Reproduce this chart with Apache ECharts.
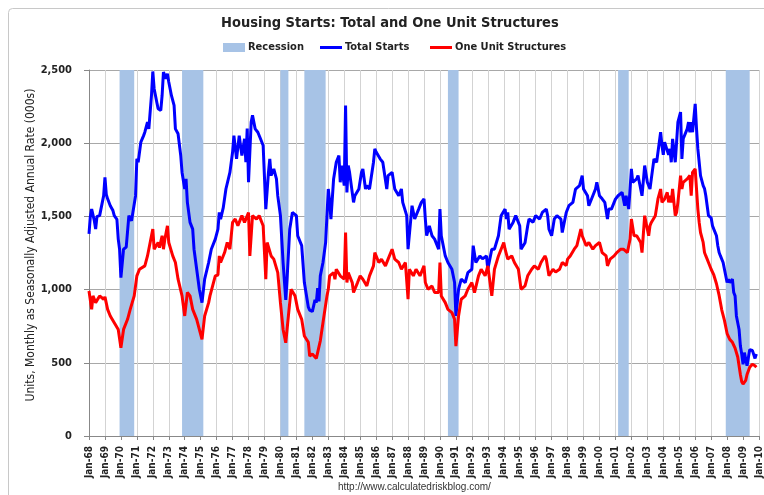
<!DOCTYPE html>
<html><head><meta charset="utf-8">
<script src="https://cdn.jsdelivr.net/npm/echarts@6/dist/echarts.min.js"></script>
<style>html,body{margin:0;padding:0;background:#fff}#c{width:764px;height:495px}</style>
</head><body><div id="c"></div>
<script>
// ---- data ----
const startYear = 1968, endYear = 2010;
const monthNames = ['Jan','Feb','Mar','Apr','May','Jun','Jul','Aug','Sep','Oct','Nov','Dec'];
const categories = [];
for (let y = startYear; y <= endYear; y++) {
  for (let m = 1; m <= 12; m++) {
    if (y === endYear && m > 1) break;
    categories.push(y + '-' + String(m).padStart(2, '0'));
  }
}
const yTicks = [0, 500, 1000, 1500, 2000, 2500];

const recessions = [
  ['1969-12','1970-11'], ['1973-11','1975-03'], ['1980-01','1980-07'],
  ['1981-07','1982-11'], ['1990-07','1991-03'], ['2001-03','2001-11'], ['2007-12','2009-06']
];

const totalStarts = [
["1968-01",1380],["1968-02",1500],["1968-03",1550],["1968-05",1470],["1968-06",1413],["1968-07",1500],["1968-09",1505],["1968-11",1596],["1968-12",1640],
["1969-01",1767],["1969-02",1650],["1969-03",1620],["1969-05",1573],["1969-07",1540],["1969-08",1505],["1969-10",1480],["1969-11",1345],["1969-12",1276],
["1970-01",1082],["1970-02",1180],["1970-03",1276],["1970-05",1290],["1970-06",1300],["1970-07",1505],["1970-09",1470],["1970-10",1527],["1970-12",1640],
["1971-01",1893],["1971-02",1870],["1971-04",2007],["1971-06",2050],["1971-07",2075],["1971-09",2144],["1971-10",2098],["1971-12",2326],
["1972-01",2490],["1972-02",2372],["1972-04",2280],["1972-05",2235],["1972-07",2224],["1972-08",2326],["1972-09",2486],["1972-11",2440],["1972-12",2475],
["1973-01",2418],["1973-03",2326],["1973-05",2258],["1973-06",2098],["1973-08",2064],["1973-10",1916],["1973-11",1800],
["1974-01",1687],["1974-02",1756],["1974-03",1596],["1974-05",1459],["1974-07",1413],["1974-08",1276],["1974-10",1139],["1974-12",1002],
["1975-01",957],["1975-02",911],["1975-04",1071],["1975-07",1185],["1975-09",1276],["1975-12",1345],
["1976-02",1413],["1976-03",1527],["1976-04",1482],["1976-06",1560],["1976-08",1687],["1976-11",1801],
["1977-01",1938],["1977-02",2052],["1977-04",1893],["1977-06",2052],["1977-08",1916],["1977-10",2030],["1977-11",1870],["1977-12",2100],
["1978-01",1733],["1978-03",2144],["1978-04",2190],["1978-06",2098],["1978-08",2075],["1978-10",2030],["1978-12",1984],
["1979-01",1984],["1979-02",1550],["1979-04",1800],["1979-05",1893],["1979-06",1779],["1979-08",1824],["1979-10",1756],["1979-11",1640],
["1980-01",1505],["1980-03",1185],["1980-05",930],["1980-06",1071],["1980-08",1413],["1980-10",1527],
["1981-01",1505],["1981-02",1368],["1981-05",1300],["1981-07",1048],["1981-10",880],["1981-11",860],
["1982-01",850],["1982-03",930],["1982-04",911],["1982-05",1010],["1982-06",920],["1982-07",1094],["1982-09",1185],["1982-11",1322],
["1983-01",1687],["1983-02",1600],["1983-03",1482],["1983-05",1756],["1983-07",1870],["1983-09",1916],["1983-10",1733],["1983-11",1847],
["1984-01",1710],["1984-02",2258],["1984-03",1664],["1984-04",1847],["1984-05",1801],["1984-08",1596],["1984-09",1641],["1984-12",1687],
["1985-02",1801],["1985-03",1824],["1985-05",1687],["1985-06",1710],["1985-08",1687],["1985-11",1870],["1985-12",1961],
["1986-01",1940],["1986-04",1893],["1986-06",1870],["1986-09",1687],["1986-10",1779],
["1987-01",1801],["1987-03",1687],["1987-06",1641],["1987-08",1687],["1987-09",1596],["1987-12",1505],
["1988-01",1276],["1988-04",1573],["1988-06",1482],["1988-09",1550],["1988-11",1596],
["1989-01",1620],["1989-02",1482],["1989-03",1368],["1989-05",1436],["1989-07",1368],["1989-09",1345],["1989-12",1276],
["1990-01",1550],["1990-02",1368],["1990-05",1230],["1990-07",1185],["1990-10",1139],["1990-12",1048],
["1991-01",820],["1991-03",1002],["1991-05",1071],["1991-08",1048],["1991-10",1116],
["1992-01",1139],["1992-02",1300],["1992-04",1185],["1992-07",1230],["1992-09",1210],["1992-12",1230],
["1993-01",1139],["1993-04",1276],["1993-06",1276],["1993-09",1368],["1993-11",1505],
["1994-02",1550],["1994-03",1482],["1994-04",1527],["1994-05",1413],["1994-08",1459],["1994-10",1505],
["1995-01",1436],["1995-02",1276],["1995-05",1320],["1995-07",1436],["1995-08",1482],["1995-11",1460],
["1996-01",1505],["1996-04",1482],["1996-06",1527],["1996-09",1550],["1996-10",1505],["1996-11",1413],
["1997-01",1368],["1997-03",1482],["1997-05",1505],["1997-08",1482],["1997-09",1390],["1997-12",1527],
["1998-02",1573],["1998-05",1596],["1998-07",1687],["1998-10",1710],["1998-12",1779],
["1999-01",1687],["1999-04",1641],["1999-05",1573],["1999-08",1641],["1999-10",1687],["1999-11",1733],
["2000-01",1641],["2000-03",1620],["2000-05",1596],["2000-07",1482],["2000-08",1550],["2000-10",1550],
["2001-01",1618],["2001-03",1641],["2001-06",1664],["2001-08",1573],["2001-09",1641],["2001-11",1550],["2001-12",1687],
["2002-01",1824],["2002-02",1733],["2002-05",1756],["2002-06",1779],["2002-09",1641],["2002-11",1847],
["2003-01",1733],["2003-03",1687],["2003-04",1756],["2003-06",1893],["2003-08",1870],["2003-11",2075],["2003-12",1984],
["2004-01",1920],["2004-02",2007],["2004-05",1920],["2004-06",1961],["2004-07",1870],["2004-08",2030],["2004-10",1870],["2004-12",2144],
["2005-02",2212],["2005-03",1893],["2005-04",2030],["2005-07",2098],["2005-08",2144],["2005-09",2075],["2005-10",2144],["2005-11",2075],
["2006-01",2269],["2006-02",2098],["2006-03",1961],["2006-04",1870],["2006-05",1779],["2006-07",1710],["2006-08",1690],["2006-09",1641],["2006-10",1573],["2006-11",1505],
["2007-01",1490],["2007-02",1436],["2007-03",1413],["2007-05",1368],["2007-06",1300],["2007-07",1253],["2007-08",1230],["2007-10",1185],["2007-11",1139],
["2008-01",1048],["2008-02",1071],["2008-03",1048],["2008-05",1071],["2008-06",980],["2008-07",957],["2008-08",820],["2008-10",728],["2008-11",614],["2008-12",560],
["2009-01",490],["2009-02",570],["2009-04",480],["2009-06",590],["2009-08",585],["2009-10",530],["2009-11",560]
];

const oneUnit = [
["1968-01",991],["1968-03",865],["1968-04",957],["1968-06",911],["1968-09",957],["1968-12",934],
["1969-01",950],["1969-03",865],["1969-05",820],["1969-08",774],["1969-11",728],["1969-12",728],
["1970-01",603],["1970-03",728],["1970-06",797],["1970-08",865],["1970-11",957],
["1971-01",1094],["1971-03",1139],["1971-07",1162],["1971-09",1230],["1971-11",1322],
["1972-01",1413],["1972-02",1276],["1972-05",1322],["1972-06",1287],["1972-08",1368],["1972-09",1276],["1972-10",1340],["1972-12",1436],
["1973-01",1322],["1973-04",1230],["1973-06",1185],["1973-08",1071],["1973-11",957],
["1974-01",820],["1974-03",980],["1974-05",957],["1974-07",865],["1974-10",797],["1974-12",728],
["1975-02",660],["1975-04",820],["1975-07",911],["1975-08",957],["1975-12",1094],
["1976-02",1100],["1976-03",1230],["1976-04",1185],["1976-07",1253],["1976-09",1322],["1976-11",1276],
["1977-01",1459],["1977-03",1482],["1977-05",1436],["1977-08",1505],["1977-10",1459],
["1978-01",1527],["1978-02",1230],["1978-04",1505],["1978-07",1482],["1978-09",1505],["1978-12",1436],
["1979-02",1071],["1979-03",1322],["1979-06",1230],["1979-08",1208],["1979-11",1116],
["1980-01",911],["1980-03",728],["1980-05",637],["1980-07",820],["1980-09",1002],["1980-12",957],
["1981-02",865],["1981-05",797],["1981-07",683],["1981-10",640],["1981-11",546],
["1982-01",560],["1982-04",530],["1982-07",650],["1982-09",774],["1982-12",957],
["1983-01",1002],["1983-02",1094],["1983-05",1116],["1983-06",1071],["1983-07",1139],["1983-10",1094],
["1984-01",1071],["1984-02",1390],["1984-03",1048],["1984-04",1116],["1984-07",1048],["1984-08",980],["1984-11",1048],
["1985-01",1094],["1985-03",1071],["1985-06",1025],["1985-08",1094],["1985-11",1162],["1985-12",1253],
["1986-03",1185],["1986-05",1208],["1986-08",1162],["1986-10",1208],
["1987-01",1276],["1987-03",1208],["1987-06",1185],["1987-08",1139],["1987-11",1185],
["1988-01",934],["1988-02",1139],["1988-05",1094],["1988-07",1139],["1988-10",1094],
["1989-01",1162],["1989-02",1048],["1989-04",1002],["1989-07",1025],["1989-09",980],["1989-12",980],
["1990-01",1185],["1990-02",957],["1990-05",911],["1990-07",865],["1990-10",843],["1990-12",797],
["1991-01",614],["1991-03",820],["1991-05",934],["1991-08",957],["1991-10",1002],
["1992-01",1048],["1992-03",980],["1992-06",1094],["1992-08",1139],["1992-11",1094],
["1993-01",1162],["1993-04",957],["1993-06",1139],["1993-09",1230],["1993-11",1276],
["1994-01",1322],["1994-02",1276],["1994-04",1208],["1994-07",1230],["1994-09",1185],["1994-12",1139],
["1995-02",1002],["1995-05",1025],["1995-07",1094],["1995-10",1139],["1995-12",1162],
["1996-03",1139],["1996-05",1185],["1996-08",1230],["1996-09",1208],["1996-11",1094],
["1997-02",1139],["1997-04",1120],["1997-07",1139],["1997-09",1185],["1997-12",1165],
["1998-01",1208],["1998-03",1230],["1998-06",1276],["1998-08",1300],["1998-11",1413],["1998-12",1368],
["1999-03",1300],["1999-05",1322],["1999-08",1276],["1999-10",1300],
["2000-01",1322],["2000-03",1253],["2000-06",1230],["2000-07",1162],["2000-09",1208],["2000-12",1230],
["2001-02",1253],["2001-05",1276],["2001-07",1276],["2001-10",1253],["2001-11",1300],["2001-12",1345],
["2002-01",1482],["2002-03",1368],["2002-05",1368],["2002-08",1322],["2002-09",1253],["2002-11",1505],
["2003-02",1368],["2003-03",1436],["2003-04",1459],["2003-07",1505],["2003-09",1619],["2003-11",1687],["2003-12",1596],
["2004-02",1619],["2004-04",1664],["2004-05",1596],["2004-06",1641],["2004-07",1596],["2004-08",1687],["2004-10",1505],["2004-11",1527],["2004-12",1596],
["2005-02",1779],["2005-03",1687],["2005-04",1733],["2005-07",1756],["2005-09",1779],["2005-10",1641],["2005-11",1801],
["2006-01",1824],["2006-02",1687],["2006-03",1550],["2006-04",1459],["2006-05",1390],["2006-07",1322],["2006-08",1253],["2006-09",1230],["2006-10",1208],["2006-11",1185],
["2007-01",1139],["2007-03",1100],["2007-05",1040],["2007-07",960],["2007-09",860],["2007-11",790],
["2008-01",700],["2008-03",660],["2008-05",640],["2008-07",600],["2008-09",540],["2008-10",480],["2008-11",420],["2008-12",370],
["2009-01",355],["2009-02",360],["2009-03",380],["2009-04",420],["2009-06",470],["2009-08",490],["2009-10",480],["2009-11",470]
];

// ---- chart ----
const FONT = '"Liberation Sans Narrow", "DejaVu Sans Condensed", "Liberation Sans", sans-serif';
const chart = echarts.init(document.getElementById('c'), null, {renderer: 'canvas'});
const fmtMonth = v => { const p = v.split('-'); return monthNames[+p[1]-1] + '-' + p[0].slice(2); };
const legendText = {fontFamily: FONT, fontSize: 11, fontWeight: 'bold', color: '#222', padding: [0,0,0,-2]};

chart.setOption({
  animation: false,
  backgroundColor: '#fff',
  textStyle: {fontFamily: FONT},
  title: {
    text: 'Housing Starts: Total and One Unit Structures',
    left: 216, top: 11,
    textStyle: {fontFamily: FONT, fontSize: 14.5, fontWeight: 'bold', color: '#222'}
  },
  legend: [
    {top: 42, left: 223, padding: 0, itemWidth: 22, itemHeight: 9, textStyle: legendText,
     data: [{name: 'Recession', icon: 'rect'}]},
    {top: 42, left: 320, padding: 0, itemWidth: 22, itemHeight: 3, textStyle: legendText,
     data: [{name: 'Total Starts', icon: 'rect'}]},
    {top: 42, left: 430, padding: 0, itemWidth: 22, itemHeight: 3, textStyle: legendText,
     data: [{name: 'One Unit Structures', icon: 'rect'}]}
  ],
  grid: {left: 89, right: 2, top: 70, bottom: 59},
  xAxis: {
    type: 'category', data: categories, boundaryGap: false,
    axisLine: {lineStyle: {color: '#888'}},
    axisTick: {show: true, interval: 11, length: 4, lineStyle: {color: '#888'}},
    axisLabel: {interval: 11, rotate: 90, formatter: fmtMonth, fontFamily: FONT, fontSize: 10, fontWeight: 'bold', color: '#222', margin: 10},
    splitLine: {show: true, interval: 11, lineStyle: {color: '#d3d3d3', width: 1}}
  },
  yAxis: {
    type: 'value', min: yTicks[0], max: yTicks[yTicks.length-1], interval: 500,
    name: 'Units, Monthly as Seasonally Adjusted Annual Rate (000s)',
    nameLocation: 'middle', nameGap: 52, nameRotate: 90, nameMoveOverlap: false,
    nameTextStyle: {fontFamily: FONT, fontSize: 12, color: '#222', padding: [0, 0, 0, 16]},
    axisLine: {show: true, lineStyle: {color: '#888'}},
    axisTick: {show: true, length: 5, lineStyle: {color: '#888'}},
    axisLabel: {fontFamily: FONT, fontSize: 11, fontWeight: 'bold', color: '#222', margin: 17,
      formatter: v => v.toLocaleString('en-US')},
    splitLine: {show: true, lineStyle: {color: '#a8a8a8', width: 1}}
  },
  series: [
    {
      name: 'Recession', type: 'line', data: [], symbol: 'none',
      itemStyle: {color: '#a7c3e6'}, lineStyle: {color: '#a7c3e6'},
      z: 1,
      markArea: {
        silent: true,
        itemStyle: {color: '#a7c3e6', opacity: 1},
        data: recessions.map(r => [{xAxis: r[0]}, {xAxis: r[1]}])
      }
    },
    {
      name: 'Total Starts', type: 'line', data: totalStarts, symbol: 'none', z: 3,
      itemStyle: {color: '#0000ff'}, lineStyle: {color: '#0000ff', width: 3}
    },
    {
      name: 'One Unit Structures', type: 'line', data: oneUnit, symbol: 'none', z: 3,
      itemStyle: {color: '#ff0000'}, lineStyle: {color: '#ff0000', width: 3}
    }
  ],
  graphic: [
    {type: 'rect', left: 6, top: 6, z: -10, silent: true,
     shape: {width: 800, height: 520, r: 4},
     style: {fill: 'none', stroke: '#c8c8c8', lineWidth: 1}},
    {type: 'text', left: 338, top: 482, silent: true,
     style: {text: 'http://www.calculatedriskblog.com/', font: '10px "Liberation Sans", sans-serif', fill: '#333'}}
  ]
});
</script></body></html>
